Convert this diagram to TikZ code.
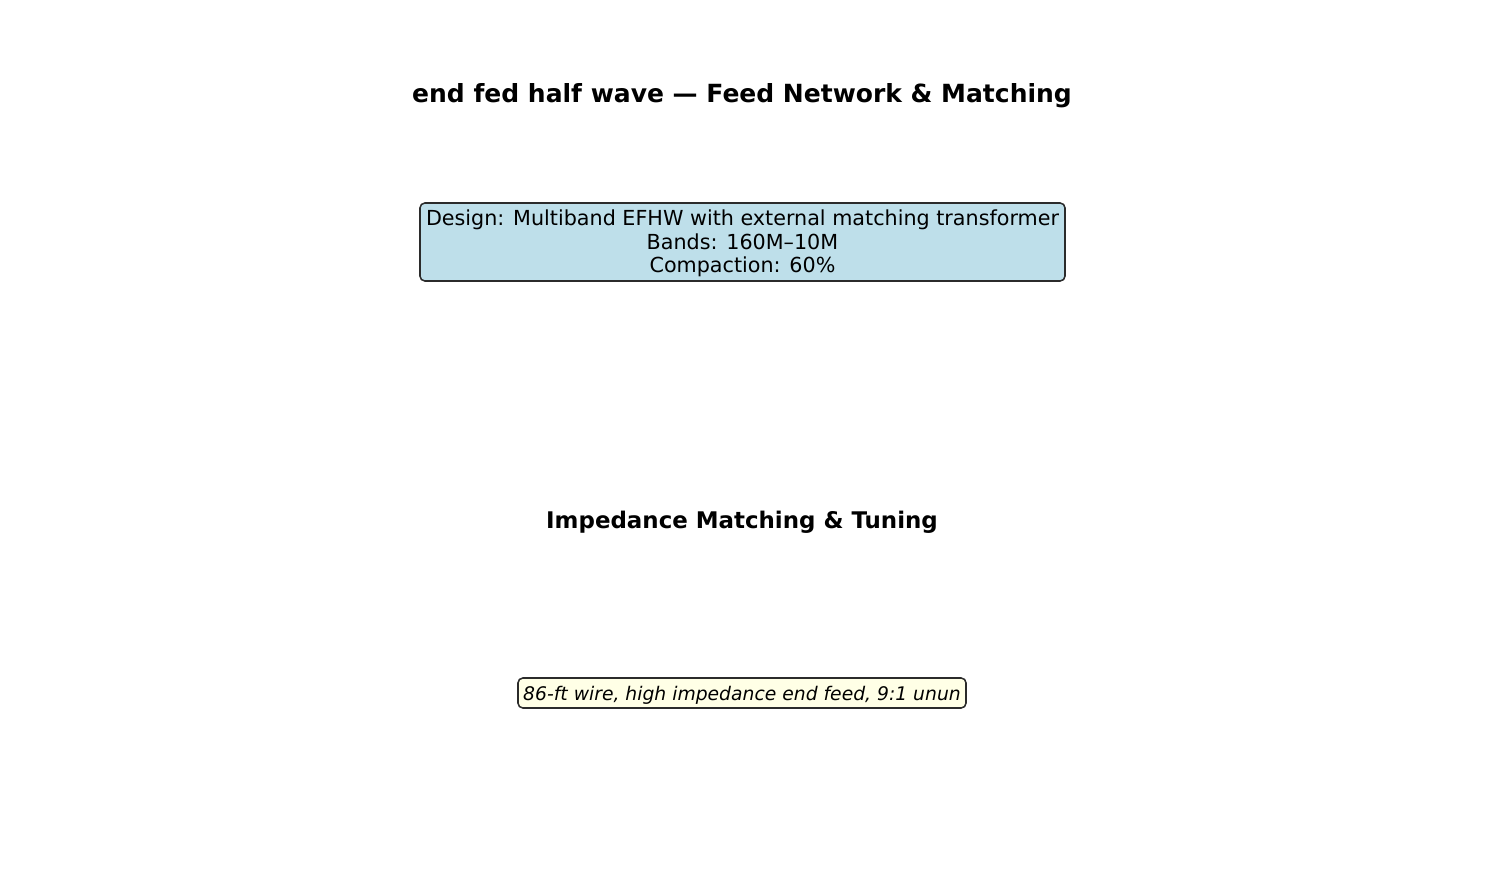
\documentclass[tikz,border=0pt]{standalone}
\usepackage{fontspec}
\setmainfont{DejaVu Sans}
\definecolor{boxblue}{HTML}{BEDFEA}
\definecolor{boxyellow}{HTML}{FFFFE6}
\definecolor{edgegray}{HTML}{2B2B2B}
\begin{document}
\begin{tikzpicture}[x=0.72pt,y=-0.72pt,
  titletext/.style={font=\fontsize{18}{21}\selectfont\bfseries, inner sep=0pt},
  infobox/.style={draw=edgegray, line width=1.1pt, rounded corners=3.5pt, fill=boxblue,
    align=center, font=\fontsize{14.9}{16.9}\selectfont, minimum width=645*0.72pt, minimum height=78*0.72pt, inner sep=0pt},
  notebox/.style={draw=edgegray, line width=1.1pt, rounded corners=3.5pt, fill=boxyellow,
    font=\fontsize{13.5}{15}\selectfont\itshape, minimum width=448*0.72pt, minimum height=30*0.72pt, inner sep=0pt}]
\useasboundingbox (0,0) rectangle (1485,885);
\node[titletext] (title) at (742,96) {end fed half wave — Feed Network \& Matching};
\node[infobox] (design) at (742.5,242) {};
\node[align=center, font=\fontsize{14.9}{16.9}\selectfont, inner sep=0pt] (designtext) at (742.5,243.5) {Design: Multiband EFHW with external matching transformer\\Bands: 160M–10M\\Compaction: 60\%};
\node[titletext, font=\fontsize{16.5}{19}\selectfont\bfseries] (sub) at (742,522) {Impedance Matching \& Tuning};
\node[notebox] (note) at (742,693) {};
\node[font=\fontsize{13.5}{15}\selectfont\itshape, inner sep=0pt] (notetext) at (742,695) {86-ft wire, high impedance end feed, 9:1 unun};
\end{tikzpicture}
\end{document}
